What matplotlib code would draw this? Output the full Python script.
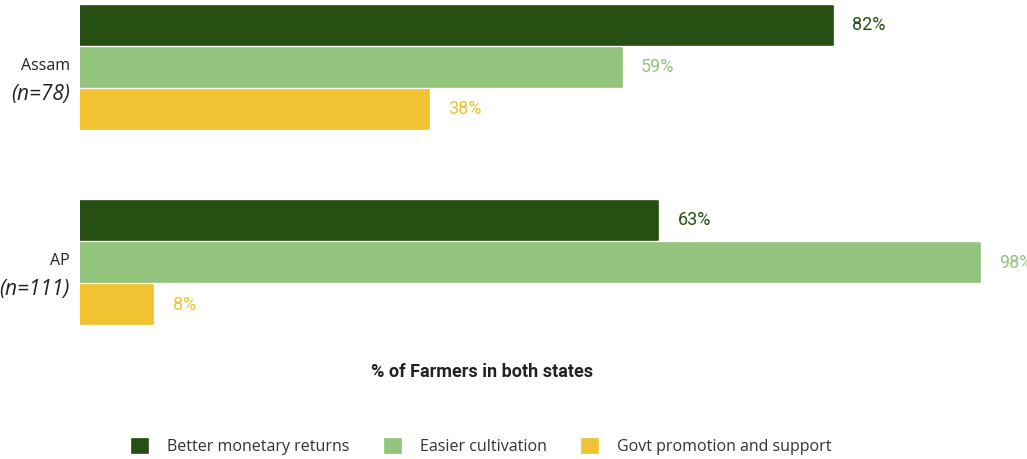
import numpy as np
import matplotlib
matplotlib.use("Agg")
from matplotlib import pyplot as plt

states = ["Assam", "AP"]
sample_sizes = ["(n=78)", "(n=111)"]
reasons = ["Better monetary returns", "Easier cultivation", "Govt promotion and support"]
better_returns = [82, 63]
easier_cultivation = [59, 98]
govt_support = [38, 8]
colores = ["#274e13", "#93c47d", "#f1c232"]

W, H = 1027, 459
fig = plt.figure(figsize=(W / 100, H / 100), dpi=100)

# ejes: x=0 en px 80, y de px 0 a 330
ax = fig.add_axes([80 / W, (H - 330) / H, (W - 80) / W, 330 / H])

px_per_unit = 195.0
y_top = -67.5 / px_per_unit
y_bot = (330 - 67.5) / px_per_unit
ax.set_ylim(y_bot, y_top)
ax.set_xlim(0, (W - 80) / 9.18)

pos = np.arange(len(states))
offset = 42 / px_per_unit
alto = 39 / px_per_unit

series = [better_returns, easier_cultivation, govt_support]
handles = []
for i, (vals, col, name) in enumerate(zip(series, colores, reasons)):
    y = pos + (i - 1) * offset
    bars = ax.barh(y, vals, height=alto, color=col, edgecolor=col,
                   linewidth=1.2, joinstyle="round", label=name)
    handles.append(bars)
    for yy, v in zip(y, vals):
        ax.text(v + 2.1, yy, f"{v}%", va="center", ha="left", color=col,
                fontsize=13, family="Roboto")

for s in ax.spines.values():
    s.set_visible(False)
ax.set_xticks([])
ax.set_yticks([])

# etiquetas de estado
for p, st, n in zip(pos, states, sample_sizes):
    ax.text(-10 / 9.18, p + 0.035, st, ha="right", va="bottom", fontsize=11.5,
            family="Open Sans", color="#222222")
    ax.text(-10 / 9.18, p + 0.14, n, ha="right", va="center", fontsize=15,
            family="Open Sans", style="italic", color="#222222")

fig.text(482 / W, 1 - 372 / H, "% of Farmers in both states", ha="center", va="center",
         fontsize=13, fontweight="bold", family="Roboto", color="#222222")

fig.legend(handles=handles, labels=reasons, loc="center", bbox_to_anchor=(482 / W, 1 - 447 / H),
           ncol=3, frameon=False, handlelength=1.0, handleheight=1.0, handletextpad=1.2,
           columnspacing=2.2, prop={"family": "Open Sans", "size": 11.5},
           labelcolor="#333333")

fig.savefig("out.png", dpi=100)
